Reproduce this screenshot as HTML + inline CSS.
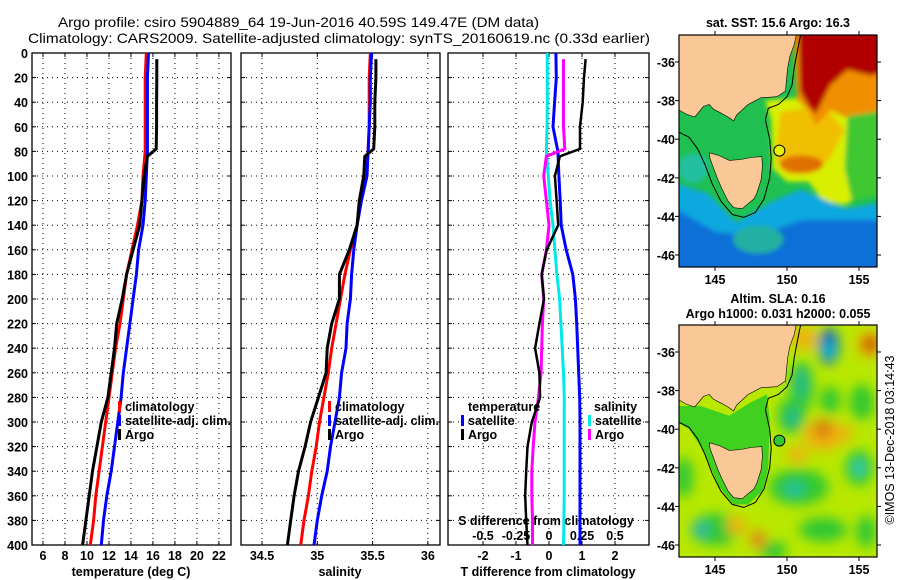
<!DOCTYPE html>
<html><head><meta charset="utf-8">
<style>
html,body{margin:0;padding:0;background:#fff;}
svg{display:block;font-family:"Liberation Sans",Arial,sans-serif;font-weight:bold;}
</style></head>
<body>
<svg id="fig" width="900" height="580" viewBox="0 0 900 580" xmlns="http://www.w3.org/2000/svg">
<defs>
<clipPath id="clipM1"><rect x="679" y="35" width="198" height="232"/></clipPath>
<clipPath id="clipM2"><rect x="679" y="325" width="198" height="232"/></clipPath>
<filter id="blur6"><feGaussianBlur stdDeviation="6"/></filter>
<filter id="blur3"><feGaussianBlur stdDeviation="2.5"/></filter>
</defs>
<text x="58" y="27" font-size="14" font-weight="normal" textLength="481" lengthAdjust="spacingAndGlyphs">Argo profile: csiro 5904889_64 19-Jun-2016 40.59S 149.47E (DM data)</text>
<text x="28" y="43" font-size="14" font-weight="normal" textLength="622" lengthAdjust="spacingAndGlyphs">Climatology: CARS2009. Satellite-adjusted climatology: synTS_20160619.nc (0.33d earlier)</text>
<g id="panels"></g>
<g id="maps"></g>
<text transform="translate(894,440) rotate(-90)" text-anchor="middle" font-size="12.5" font-weight="normal">©IMOS 13-Dec-2018 03:14:43</text>
</svg>
<script>
// ---- data ----
const climDepths = [0,20,40,60,80,100,120,140,160,180,200,220,240,260,280,300,320,340,360,380,400];
const argoDepths = [5,20,40,60,78,84,100,120,140,160,180,200,220,240,260,280,300,320,340,360,380,400];
const tempClim = [15.4,15.3,15.3,15.3,15.3,15.1,15.0,14.6,14.1,13.6,13.3,13.0,12.6,12.3,12.0,11.7,11.4,11.1,10.8,10.6,10.3];
const tempSat  = [15.6,15.5,15.5,15.5,15.5,15.4,15.3,15.1,14.7,14.5,14.2,13.9,13.6,13.3,13.1,12.8,12.5,12.2,11.8,11.5,11.3];
const tempArgo = [16.35,16.35,16.33,16.33,16.3,15.5,15.2,15.0,14.8,14.2,13.6,13.2,12.7,12.5,12.2,11.9,11.3,10.9,10.5,10.2,9.9,9.6];
const salClim = [35.48,35.47,35.47,35.47,35.46,35.44,35.39,35.36,35.3,35.25,35.21,35.17,35.13,35.1,35.06,35.02,34.99,34.95,34.92,34.88,34.85];
const salSat  = [35.49,35.48,35.48,35.47,35.46,35.45,35.4,35.36,35.33,35.31,35.3,35.27,35.26,35.22,35.2,35.16,35.12,35.09,35.04,35.0,34.97];
const salArgo = [35.53,35.53,35.52,35.52,35.51,35.43,35.42,35.38,35.36,35.29,35.2,35.2,35.13,35.09,35.08,35.01,34.94,34.89,34.83,34.79,34.76,34.73];
const tdiffSat  = [0.21,0.22,0.17,0.12,0.27,0.3,0.34,0.37,0.52,0.72,0.8,0.84,0.87,0.9,0.93,0.94,0.94,0.94,0.94,0.94,0.94];
const sdiffSat  = [-0.013,-0.013,-0.013,-0.015,-0.02,-0.005,0.008,0.03,0.045,0.06,0.08,0.09,0.10,0.11,0.116,0.115,0.115,0.115,0.115,0.113,0.11];
const tdiffArgo = [1.11,1.06,1.02,0.94,0.94,0.33,0.18,0.23,0.28,-0.07,-0.22,-0.15,-0.29,-0.42,-0.29,-0.27,-0.52,-0.65,-0.69,-0.72,-0.69,-0.65];
const sdiffArgo = [0.11,0.11,0.11,0.11,0.12,-0.02,-0.04,-0.02,0,-0.02,-0.055,-0.04,-0.05,-0.055,-0.06,-0.08,-0.106,-0.12,-0.13,-0.13,-0.125,-0.125];
const depthTicks = [0,20,40,60,80,100,120,140,160,180,200,220,240,260,280,300,320,340,360,380,400];
const tempTicks = [6,8,10,12,14,16,18,20,22];
const salTicks = [34.5,35,35.5,36];
const salTickLabels = ["34.5","35","35.5","36"];
const tdTicks = [-2,-1,0,1,2];
const sdTicks = [-0.5,-0.25,0,0.25,0.5];
const sdTickLabels = ["-0.5","-0.25","0","0.25","0.5"];
const lonTicks = [145,150,155];
const latTicks = [-36,-38,-40,-42,-44,-46];
const argoLon = [149.47];
const argoLat = [-40.59];

const NS='http://www.w3.org/2000/svg';
function mk(tag, attrs, parent){const e=document.createElementNS(NS,tag);for(const k in attrs)e.setAttribute(k,attrs[k]);if(parent)parent.appendChild(e);return e;}
const Y0=53, Y1=545;
const yD = d => Y0 + (d/400)*(Y1-Y0);
const panelsG=document.getElementById('panels');

function panel(name,x0,x1,dmin,dmax){
  const xs = v => x0 + (v-dmin)/(dmax-dmin)*(x1-x0);
  const g=mk('g',{},panelsG);
  
  
  const r=mk('rect',{x:x0,y:Y0,width:x1-x0,height:Y1-Y0,fill:'none',stroke:'#000','stroke-width':1.3},g);
  
  
  depthTicks.forEach(d=>{
    if(d>0&&d<400){const l=mk('line',{x1:x0,x2:x1,y1:yD(d),y2:yD(d),stroke:'#000','stroke-width':1,'stroke-dasharray':'1,4'},g);
    
    }
    mk('line',{x1:x0,x2:x0+4,y1:yD(d),y2:yD(d),stroke:'#000'},g);
    mk('line',{x1:x1-4,x2:x1,y1:yD(d),y2:yD(d),stroke:'#000'},g);
  });
  return {g,xs};
}
function vgrid(p,ticks){
  ticks.forEach(t=>{const x=p.xs(t);
    const l=mk('line',{x1:x,x2:x,y1:Y0,y2:Y1,stroke:'#000','stroke-width':1,'stroke-dasharray':'1,4'},p.g);
    
    
    mk('line',{x1:x,x2:x,y1:Y1-4,y2:Y1,stroke:'#000'},p.g);
    mk('line',{x1:x,x2:x,y1:Y0,y2:Y0+4,stroke:'#000'},p.g);
  });
}
function tickLabels(p,ticks,labels,y,name){
  ticks.forEach((t,i)=>{const tx=mk('text',{x:p.xs(t),y:y,'text-anchor':'middle','font-size':12.5},p.g);
    tx.textContent=labels?labels[i]:String(t);
    
    });
}
function line(p,xsFn,vals,depths,color,w,name){
  const pts=vals.map((v,i)=>xsFn(v).toFixed(1)+','+yD(depths[i]).toFixed(1)).join(' ');
  const pl=mk('polyline',{points:pts,fill:'none',stroke:color,'stroke-width':w,'stroke-linejoin':'miter'},p.g);
  
  
}
function txt(parent,x,y,s,name,extra){const t=mk('text',Object.assign({x:x,y:y,'font-size':12.5},extra||{}),parent);t.textContent=s;
  
  return t;}
function legBar(parent,x,y,color,name){const r=mk('rect',{x:x,y:y-10,width:3,height:11,fill:color},parent);
  
  }

// Panel 1: temperature
const p1=panel('temperature-panel',32,231,5,23.1);
vgrid(p1,tempTicks);
depthTicks.forEach(d=>{const t=txt(p1.g,28,yD(d)+5,String(d),'depth-tick-label',{'text-anchor':'end'});});
tickLabels(p1,tempTicks,null,560,'temperature-tick-label');
txt(p1.g,131,576,'temperature (deg C)','temperature-axis-title',{'text-anchor':'middle'});
line(p1,p1.xs,tempClim,climDepths,'#ff0000',3,'temperature-climatology-line');
line(p1,p1.xs,tempSat,climDepths,'#0000ff',3,'temperature-satellite-line');
line(p1,p1.xs,tempArgo,argoDepths,'#000000',3,'temperature-argo-line');
legBar(p1.g,118,411,'#ff0000','legend-climatology-swatch');
legBar(p1.g,118,425,'#0000ff','legend-satellite-swatch');
legBar(p1.g,118,439,'#000000','legend-argo-swatch');
txt(p1.g,125,411,'climatology','legend-climatology');
txt(p1.g,125,425,'satellite-adj. clim.','legend-satellite-adj',{textLength:106,lengthAdjust:'spacingAndGlyphs'});
txt(p1.g,125,439,'Argo','legend-argo');

// Panel 2: salinity
const p2=panel('salinity-panel',241,440,34.31,36.11);
vgrid(p2,salTicks);
tickLabels(p2,salTicks,salTickLabels,560,'salinity-tick-label');
txt(p2.g,340,576,'salinity','salinity-axis-title',{'text-anchor':'middle'});
line(p2,p2.xs,salClim,climDepths,'#ff0000',3,'salinity-climatology-line');
line(p2,p2.xs,salSat,climDepths,'#0000ff',3,'salinity-satellite-line');
line(p2,p2.xs,salArgo,argoDepths,'#000000',3,'salinity-argo-line');
legBar(p2.g,328,411,'#ff0000','legend-climatology-swatch');
legBar(p2.g,328,425,'#0000ff','legend-satellite-swatch');
legBar(p2.g,328,439,'#000000','legend-argo-swatch');
txt(p2.g,335,411,'climatology','legend-climatology');
txt(p2.g,335,425,'satellite-adj. clim.','legend-satellite-adj',{textLength:104,lengthAdjust:'spacingAndGlyphs'});
txt(p2.g,335,439,'Argo','legend-argo');

// Panel 3: differences
const p3=panel('difference-panel',448,649,-3.06,3.03);
const sx = v => p3.xs(v*4);
vgrid(p3,tdTicks);
tickLabels(p3,tdTicks,null,560,'t-diff-tick-label');
txt(p3.g,548,576,'T difference from climatology','t-diff-axis-title',{'text-anchor':'middle'});
sdTicks.forEach((t,i)=>{const tt=txt(p3.g,sx(t),540,sdTickLabels[i],'s-diff-tick-label',{'text-anchor':'middle'});});
txt(p3.g,546,525,'S difference from climatology','s-diff-axis-title',{'text-anchor':'middle'});
line(p3,sx,sdiffSat,climDepths,'#00e8e8',3,'salinity-diff-satellite-line');
line(p3,p3.xs,tdiffSat,climDepths,'#0000ff',3,'temperature-diff-satellite-line');
line(p3,sx,sdiffArgo,argoDepths,'#ff00ff',3,'salinity-diff-argo-line');
line(p3,p3.xs,tdiffArgo,argoDepths,'#000000',2.5,'temperature-diff-argo-line');
txt(p3.g,468,411,'temperature','legend-temperature-header');
legBar(p3.g,461,425,'#0000ff','legend-t-satellite-swatch');
legBar(p3.g,461,439,'#000000','legend-t-argo-swatch');
txt(p3.g,468,425,'satellite','legend-t-satellite');
txt(p3.g,468,439,'Argo','legend-t-argo');
txt(p3.g,594,411,'salinity','legend-salinity-header');
legBar(p3.g,588,425,'#00e8e8','legend-s-satellite-swatch');
legBar(p3.g,588,439,'#ff00ff','legend-s-argo-swatch');
txt(p3.g,595,425,'satellite','legend-s-satellite');
txt(p3.g,595,439,'Argo','legend-s-argo');

// ---- maps ----
const mapsG=document.getElementById('maps');
const mx = lon => 679 + (lon-142.5)*14.4;
const my = (lat,off) => 62 + off + (-36-lat)*19.3;
const mainland=[[142.3,-34.4],[142.3,-38.4],[143.0,-38.7],[143.6,-38.85],[144.2,-38.3],[144.6,-38.2],[144.9,-38.45],[145.3,-38.6],[145.9,-38.85],[146.3,-39.05],[146.5,-38.75],[147.3,-38.2],[148.2,-37.85],[149.3,-37.8],[149.9,-37.5],[149.95,-37.0],[150.05,-36.3],[150.2,-35.7],[150.5,-35.1],[150.7,-34.4]];
const tasmania=[[144.6,-40.7],[145.3,-40.85],[146.0,-41.1],[146.8,-41.05],[147.5,-40.95],[148.25,-40.9],[148.3,-41.4],[148.2,-42.1],[147.9,-42.8],[147.7,-43.1],[147.2,-43.4],[146.9,-43.6],[146.3,-43.55],[145.9,-43.2],[145.5,-42.6],[145.2,-42.1],[144.9,-41.5],[144.65,-41.0]];
const contour=[[142.4,-39.6],[143.2,-39.9],[143.8,-40.5],[144.3,-41.3],[144.8,-42.3],[145.4,-43.2],[146.2,-43.9],[147.0,-44.05],[147.8,-43.8],[148.4,-43.1],[148.8,-42.0],[148.9,-41.0],[148.8,-40.0],[148.5,-39.0],[148.7,-38.4],[149.4,-38.2],[150.0,-37.8],[150.35,-37.2],[150.5,-36.3],[150.7,-35.5],[151.0,-34.4]];
function poly(parent,pts,off,attrs,name){
  const p=mk('polygon',Object.assign({points:pts.map(q=>mx(q[0]).toFixed(1)+','+my(q[1],off).toFixed(1)).join(' ')},attrs),parent);
  
  return p;}
function pline(parent,pts,off,name){
  const p=mk('polyline',{points:pts.map(q=>mx(q[0]).toFixed(1)+','+my(q[1],off).toFixed(1)).join(' '),fill:'none',stroke:'#000','stroke-width':1},parent);
  
  }
function ell(parent,lon,lat,off,rx,ry,color){mk('ellipse',{cx:mx(lon),cy:my(lat,off),rx:rx,ry:ry,fill:color},parent);}

function mapFrame(name){
  const g=mk('g',{},mapsG);
  
  
  return g;
}
// Map 1 SST
const m1=mapFrame('sst-map');
txt(m1,778,27,'sat. SST: 15.6 Argo: 16.3','sst-map-title',{'text-anchor':'middle'});
const c1=mk('g',{'clip-path':'url(#clipM1)'},m1);
mk('rect',{x:679,y:35,width:198,height:232,fill:'#20c050'},c1);
const s1=mk('g',{filter:'url(#blur3)'},c1);
poly(s1,[[148.5,-38],[156.5,-37.5],[156.5,-42.5],[154,-43.4],[152.5,-43.2],[151.5,-42.2],[150,-42.2],[149,-41.5],[148.9,-39]],0,{fill:'#d8f000'},'sst-warm-region');
poly(s1,[[149.5,-38.6],[152.5,-38.2],[154,-39.5],[153,-41],[151.5,-41.8],[150,-41.8],[149.2,-41]],0,{fill:'#f0c000'},'sst-orange-region');
poly(s1,[[150.4,-34],[157,-34],[157,-38.8],[155,-39.2],[153,-38.5],[152,-39.3],[151.5,-38.5],[150.7,-38]],0,{fill:'#f09000'},'sst-hot-region');
poly(s1,[[150.8,-34],[157,-34],[157,-36.5],[155.8,-36.7],[154.2,-36.4],[153,-37.2],[152,-38.7],[151.5,-38.3],[150.9,-37.5]],0,{fill:'#b00000'},'sst-ecc-region');
poly(s1,[[154.2,-38.8],[157,-38.5],[157,-42.8],[154.5,-43.2],[154,-41.5]],0,{fill:'#40c830'},'sst-green-east');
ell(s1,151,-41.3,0,22,9,'#e07000');
poly(s1,[[142,-42.2],[144.5,-42.8],[146.5,-44.3],[149,-43.2],[151,-42.6],[154,-43.6],[157,-43.2],[157,-47],[142,-47]],0,{fill:'#10a8e0'},'sst-cool-region');
poly(s1,[[142,-43.5],[145,-44.8],[148,-45],[151,-44.2],[157,-44.2],[157,-47],[142,-47]],0,{fill:'#1070d8'},'sst-cold-region');
ell(s1,148,-45.2,0,25,14,'#20b0a0');
ell(s1,143.5,-41.5,0,15,15,'#20c0a0');
poly(c1,mainland,0,{fill:'#f9c896',stroke:'#000','stroke-width':0.6},'mainland-land');
poly(c1,tasmania,0,{fill:'#f9c896',stroke:'#000','stroke-width':0.6},'tasmania-land');
pline(c1,contour,0,'shelf-contour');
const a1=mk('circle',{cx:mx(argoLon[0]),cy:my(argoLat[0],0),r:5.5,fill:'#e8f000',stroke:'#000','stroke-width':1},m1);



// Map 2 SLA
const m2=mapFrame('sla-map');
txt(m2,778,303,'Altim. SLA: 0.16','sla-map-title',{'text-anchor':'middle'});
txt(m2,778,318,'Argo h1000: 0.031 h2000: 0.055','sla-map-subtitle',{'text-anchor':'middle'});
const c2=mk('g',{'clip-path':'url(#clipM2)'},m2);
mk('rect',{x:679,y:325,width:198,height:232,fill:'#b8e800'},c2);
const s2=mk('g',{filter:'url(#blur6)'},c2);
[[151,-37.8,12,26],[150.3,-39.3,14,18],[153,-38.5,10,14],[155.2,-38.6,12,18],[150.8,-43,30,18],[155,-42,14,18],[145,-45.2,24,16],[149,-46.3,14,10],[152.5,-45.2,24,12],[142.8,-42.5,10,20],[155.5,-45.3,10,16]].forEach(e=>ell(s2,e[0],e[1],290,e[2],e[3],'#30c830'));
ell(s2,151,-37.6,290,6,16,'#20b890');ell(s2,150.4,-39.4,290,7,10,'#20b890');ell(s2,155,-42,290,6,8,'#30c8c0');ell(s2,150.5,-43.1,290,10,8,'#20c0a0');ell(s2,144,-45.2,290,9,8,'#30b8a8');
[[152.5,-40.3,20,16],[150.7,-41.3,10,8],[146.5,-45,10,9],[148,-45.7,9,10],[151.2,-35.3,12,12],[155.7,-35.6,12,14],[154,-40.2,8,8]].forEach(e=>ell(s2,e[0],e[1],290,e[2],e[3],'#f0b010'));
ell(s2,152.5,-40,290,8,8,'#d07010');ell(s2,148,-45.7,290,5,7,'#d07010');ell(s2,155.8,-35.6,290,8,8,'#c04000');
ell(s2,152.9,-35.7,290,10,18,'#1060d0');ell(s2,152.9,-35.9,290,6,8,'#10c0e0');
poly(c2,[[142.3,-38.8],[144,-38.8],[146,-39.3],[147.5,-38.6],[148.6,-38.2],[148.8,-39.5],[148.7,-42],[148.3,-43.2],[147.3,-43.9],[146.3,-43.9],[145.3,-43],[144.7,-42],[144.1,-41],[143.2,-40],[142.3,-39.6]],290,{fill:'#40d020'},'sla-shelf-region');
poly(c2,mainland,290,{fill:'#f9c896',stroke:'#000','stroke-width':0.6},'mainland-land');
poly(c2,tasmania,290,{fill:'#f9c896',stroke:'#000','stroke-width':0.6},'tasmania-land');
pline(c2,contour,290,'shelf-contour');
const a2=mk('circle',{cx:mx(argoLon[0]),cy:my(argoLat[0],290),r:5.5,fill:'#30c830',stroke:'#000','stroke-width':1},m2);



[[m1,0],[m2,290]].forEach(([g,off],k)=>{
  const fr=mk('rect',{x:679,y:35+off,width:198,height:232,fill:'none',stroke:'#000','stroke-width':1.2},g);
  
  
  lonTicks.forEach(l=>{const x=mx(l);
    mk('line',{x1:x,x2:x,y1:267+off,y2:271+off,stroke:'#000'},g);
    mk('line',{x1:x,x2:x,y1:31+off,y2:35+off,stroke:'#000'},g);
    txt(g,x,284+off,String(l),'longitude-tick-label',{'text-anchor':'middle'});});
  latTicks.forEach(l=>{const y=my(l,off);
    mk('line',{x1:675,x2:679,y1:y,y2:y,stroke:'#000'},g);
    mk('line',{x1:877,x2:881,y1:y,y2:y,stroke:'#000'},g);
    txt(g,675,y+5,String(l),'latitude-tick-label',{'text-anchor':'end'});});
});
</script>
</body></html>
